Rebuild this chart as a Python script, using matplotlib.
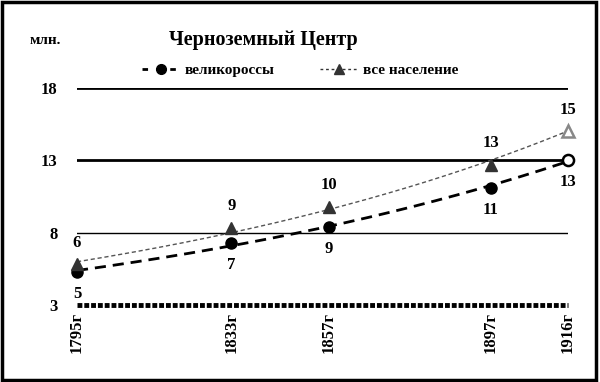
import numpy as np
import matplotlib.pyplot as plt
from matplotlib.lines import Line2D

plt.rcParams['font.family'] = ['Liberation Serif', 'DejaVu Serif']
plt.rcParams['font.weight'] = 'bold'

years = [1795, 1833, 1857, 1897, 1916]
year_labels = ['1795г', '1833г', '1857г', '1897г', '1916г']
great_russians = [5.3, 7.3, 8.4, 11.1, 13.0]
total_pop = [5.8, 8.3, 9.8, 12.7, 15.0]
gr_labels = ['5', '7', '9', '11', '13']
tot_labels = ['6', '9', '10', '13', '15']


def exp_trend(x, y):
    x = np.asarray(x, float)
    c = np.polyfit(x - x[0], np.log(y), 1)
    xs = np.linspace(x[0], x[-1], 200)
    return xs, np.exp(np.polyval(c, xs - x[0]))


fig = plt.figure(figsize=(6, 3.82), dpi=100)
ax = fig.add_axes([77/600, 1 - 305/382, (568 - 77)/600, (305 - 88)/382])

# horizontal grid lines
ax.axhline(18, color='black', lw=2)
ax.axhline(13, color='black', lw=2)
ax.axhline(8, color='black', lw=1)
ax.axhline(3, color='black', lw=3.5, ls=(0, (1.0, 0.4)), clip_on=False)

xs, ys = exp_trend(years, great_russians)
ax.plot(xs, ys, color='black', lw=2, ls=(0, (4, 2.5)), clip_on=False)
xs, ys = exp_trend(years, total_pop)
ax.plot(xs, ys, color='#555555', lw=1, ls=(0, (3, 2)), clip_on=False)

ax.plot(years[:-1], great_russians[:-1], 'o', color='black', ms=8, clip_on=False)
ax.plot(years[-1], great_russians[-1], 'o', mfc='white', mec='black', mew=1.8, ms=8,
        clip_on=False)
ax.plot(years[:-1], total_pop[:-1], '^', color='#333333', ms=8, clip_on=False)
ax.plot(years[-1], total_pop[-1], '^', mfc='white', mec='#888888', mew=1.8, ms=8,
        clip_on=False)

for x, y, t in zip(years, great_russians, gr_labels):
    ax.annotate(t, (x, y), xytext=(0, -10), textcoords='offset points',
                ha='center', va='top', fontsize=12, fontweight='bold')
for x, y, t in zip(years, total_pop, tot_labels):
    ax.annotate(t, (x, y), xytext=(0, 10), textcoords='offset points',
                ha='center', va='bottom', fontsize=12, fontweight='bold')

ax.set_xlim(1795, 1916)
ax.set_ylim(3, 18)
ax.set_yticks([3, 8, 13, 18])
ax.set_yticklabels(['3', '8', '13', '18'], fontsize=12, fontweight='bold')
ax.set_xticks(years)
ax.set_xticklabels(year_labels, rotation=90, fontsize=12, fontweight='bold')
ax.tick_params(axis='x', length=0, pad=5)
ax.tick_params(axis='y', length=0, pad=14)
for s in ax.spines.values():
    s.set_visible(False)

fig.text(45/600, 1 - 40/382, 'млн.', fontsize=11, fontweight='bold', va='center', ha='center')
fig.text(263/600, 1 - 40/382, 'Черноземный Центр', fontsize=14.5, fontweight='bold',
         va='center', ha='center')

handles = [Line2D([], [], color='black', lw=2, ls=(0, (2, 3)), marker='o', ms=7),
           Line2D([], [], color='#333333', lw=1, ls=(0, (2, 2)), marker='^', ms=7)]
fig.legend(handles, ['великороссы', 'все население'], loc='center',
           bbox_to_anchor=(300/600, 1 - 70/382), ncol=2, frameon=False,
           prop={'size': 11, 'weight': 'bold'}, handlelength=2.5,
           columnspacing=3, handletextpad=0.3)

fig.add_artist(plt.Rectangle((0.004, 0.006), 0.99, 0.988, transform=fig.transFigure,
                             fill=False, lw=2.5, color='black'))

fig.savefig('out.png', dpi=100)
